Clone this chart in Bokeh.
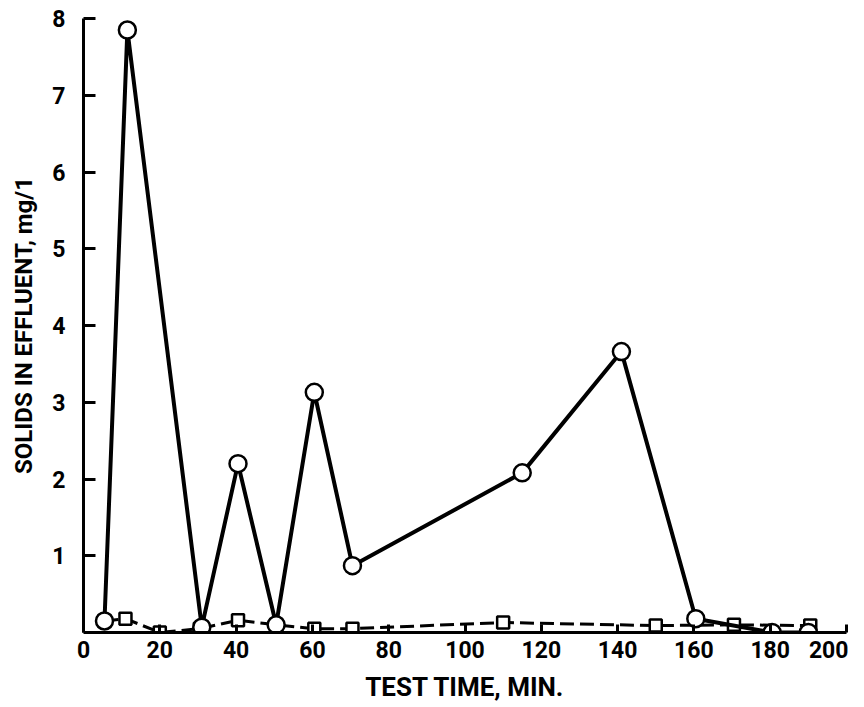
from bokeh.plotting import figure
from bokeh.models import Range1d, FixedTicker
from bokeh.embed import file_html
from bokeh.resources import INLINE

# Data
circle_time = [5.5, 11.5, 31, 40.5, 50.5, 60.5, 70.5, 115, 141, 160.5, 180.5, 190]
circle_solids = [0.15, 7.85, 0.07, 2.2, 0.1, 3.13, 0.87, 2.08, 3.66, 0.18, 0.0, 0.0]

square_time = [5.5, 11, 20, 30.5, 40.5, 50.5, 60.5, 70.5, 110, 150, 170.5, 190.5]
square_solids = [0.15, 0.18, 0.0, 0.05, 0.16, 0.1, 0.05, 0.05, 0.13, 0.09, 0.1, 0.09]

x_ticks = [0, 20, 40, 60, 80, 100, 120, 140, 160, 180, 200]
y_ticks = [1, 2, 3, 4, 5, 6, 7, 8]

FONT = "Roboto"

p = figure(width=848, height=690, output_backend="svg", toolbar_location=None,
           x_range=Range1d(0, 200), y_range=Range1d(0, 8),
           min_border_left=83, min_border_right=2, min_border_top=18, min_border_bottom=58)
p.frame_width = 763
p.frame_height = 614
p.outline_line_color = None
p.grid.visible = False
p.background_fill_color = "white"

# dashed square series
p.line(square_time, square_solids, line_color="black", line_width=3, line_dash="14 6")
p.scatter(square_time, square_solids, marker="square", size=12, fill_color="white",
          line_color="black", line_width=2.5)

# solid circle series
p.line(circle_time, circle_solids, line_color="black", line_width=4)
p.scatter(circle_time, circle_solids, marker="circle", size=17, fill_color="white",
          line_color="black", line_width=2.5)

for ax in (p.xaxis, p.yaxis):
    ax.axis_line_width = 3
    ax.axis_line_color = "black"
    ax.major_tick_line_width = 3
    ax.major_tick_line_color = "black"
    ax.major_tick_out = 0
    ax.minor_tick_line_color = None
    ax.major_label_text_font = FONT
    ax.major_label_text_font_style = "bold"
    ax.major_label_text_font_size = "23px"
    ax.major_label_text_color = "black"
    ax.axis_label_text_font = FONT
    ax.axis_label_text_font_style = "bold"
    ax.axis_label_text_color = "black"

p.xaxis.ticker = FixedTicker(ticks=x_ticks)
p.yaxis.ticker = FixedTicker(ticks=y_ticks)
p.xaxis.major_tick_in = 8
p.yaxis.major_tick_in = 12
p.xaxis.major_label_standoff = 8
p.yaxis.major_label_standoff = 18
p.xaxis.axis_label = "TEST TIME, MIN."
p.yaxis.axis_label = "SOLIDS IN EFFLUENT, mg/1"
p.xaxis.axis_label_text_font_size = "26px"
p.yaxis.axis_label_text_font_size = "24px"
p.xaxis.axis_label_standoff = 11
p.yaxis.axis_label_standoff = 11

open("out.html", "w").write(file_html(p, INLINE))
